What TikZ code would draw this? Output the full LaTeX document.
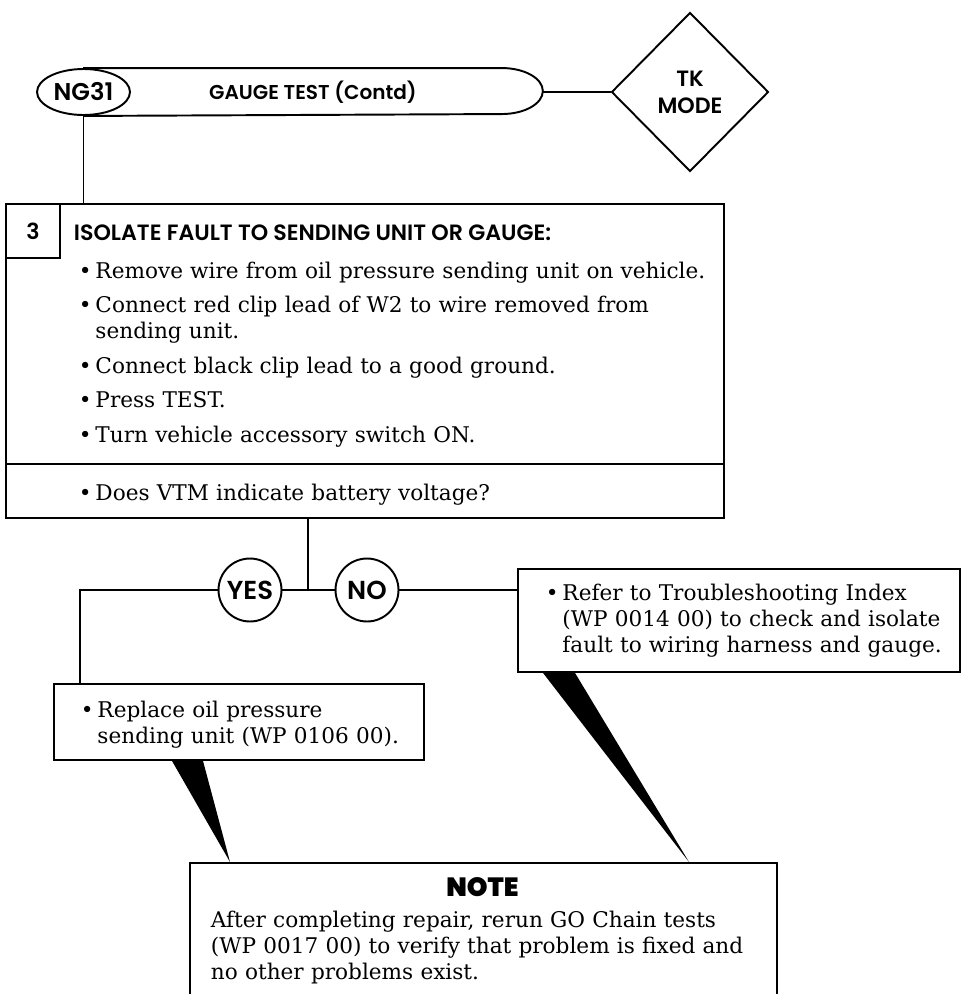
\documentclass[tikz,border=0pt]{standalone}
\usepackage{fontspec}
\setmainfont{DejaVu Serif}
\newfontfamily\hdfont{Poppins}[UprightFont=* SemiBold,BoldFont=* Bold]
\newfontfamily\notefont{Poppins Black}
\usetikzlibrary{positioning,calc,shapes.geometric}
\newcommand{\blt}{\makebox[9.4pt][l]{\textbullet}}
\newcommand{\ind}{\hspace*{9.4pt}}

\begin{document}
\begin{tikzpicture}[x=0.02cm, y=-0.02cm, line width=1.1pt,
    head/.style={font=\hdfont\fontsize{#1}{15.4}\selectfont, inner sep=0pt},
    head/.default=12.6,
    body/.style={font=\fontsize{12.3}{15}\selectfont, inner sep=0pt, text width=#1, align=left, anchor=base west},
    frame/.style={draw, inner sep=0pt, anchor=north west},
    answer/.style={draw, circle, fill=white, minimum size=1.26cm, inner sep=0pt, font=\hdfont\fontsize{14.8}{15}\selectfont}
]

    % page area, also cuts the note box at the bottom
    \clip (0,0) rectangle (961,994);

    % Banner with the rounded right end
    \node[head=11.4, minimum width=9.16cm, minimum height=0.92cm, anchor=west] (banner) at (83,92) {GAUGE TEST (Contd)};
    \draw (banner.north west) -- ($(banner.north east)+(-41,0)$) arc[start angle=-90, end angle=90, x radius=41, y radius=23] -- (banner.south west);
    \node[head=13.8, draw, ellipse, fill=white, minimum width=1.86cm, minimum height=0.92cm] (ng31) at (83.5,92) {NG31};

    % TK mode diamond
    \node[head, draw, diamond, minimum width=3.14cm, minimum height=3.18cm, align=center] (tk) at (690,92) {TK\\MODE};
    \draw (banner.east) -- (tk.west);

    % Step 3 box
    \node[frame, minimum width=14.36cm, minimum height=6.28cm] (stepbox) at (5,203) {};
    \node[frame, head, minimum width=1.08cm, minimum height=1.08cm] (stepnum) at (5,203) {3};
    \node[head, anchor=base west] (steptitle) at (73,240) {ISOLATE FAULT TO SENDING UNIT OR GAUGE:};
    \node[body=13.5cm] (steplist) at (78,278) {
        \blt Remove wire from oil pressure sending unit on vehicle.\\[4.6pt]
        \blt Connect red clip lead of W2 to wire removed from\\
        \ind sending unit.\\[4.6pt]
        \blt Connect black clip lead to a good ground.\\[4.6pt]
        \blt Press TEST.\\[4.6pt]
        \blt Turn vehicle accessory switch ON.};
    \draw ($(stepbox.south west)+(0,-55)$) -- ($(stepbox.south east)+(0,-55)$);
    \node[body=13.5cm] (stepq) at (78,500) {\blt Does VTM indicate battery voltage?};
    \draw (ng31.south) -- (ng31.south |- stepbox.north);

    % Yes / No branches
    \coordinate (fork) at (308,590);
    \node[answer] (yes) at (250,590) {YES};
    \node[answer] (no) at (367,590) {NO};
    \draw (fork |- stepbox.south) -- (fork);
    \draw (yes.east) -- (fork) -- (no.west);

    \node[frame, minimum width=7.4cm, minimum height=1.52cm] (yesbox) at (53,683) {};
    \node[body=7.2cm] (yestext) at (80,717) {\blt Replace oil pressure\\\ind sending unit (WP 0106 00).};
    \draw (yes.west) -| ($(yesbox.north west)+(27,0)$);

    \node[frame, minimum width=8.84cm, minimum height=2.06cm] (nobox) at (517,568) {};
    \node[body=8.6cm] (notext) at (545,600) {
        \blt Refer to Troubleshooting Index\\
        \ind (WP 0014 00) to check and isolate\\
        \ind fault to wiring harness and gauge.};
    \draw (no.east) -- (no.east -| nobox.west);

    % Note box, open at the bottom edge
    \node[frame, minimum width=11.74cm, minimum height=4cm] (notebox) at (189,862) {};
    \node[font=\notefont\fontsize{15}{15}\selectfont, inner sep=0pt, anchor=base] (notetitle) at (482.5,896) {NOTE};
    \node[body=11.5cm] (notetext) at (210,927) {
        After completing repair, rerun GO Chain tests\\
        (WP 0017 00) to verify that problem is fixed and\\
        no other problems exist.};

    % Black callout wedges into the note
    \fill ($(yesbox.south west)+(119,0)$) -- ($(yesbox.south west)+(150,0)$) -- ($(notebox.north west)+(41,0)$) -- cycle;
    \fill ($(nobox.south west)+(26,0)$) -- ($(nobox.south west)+(58,0)$) -- ($(notebox.north west)+(500,0)$) -- cycle;

\end{tikzpicture}
\end{document}
